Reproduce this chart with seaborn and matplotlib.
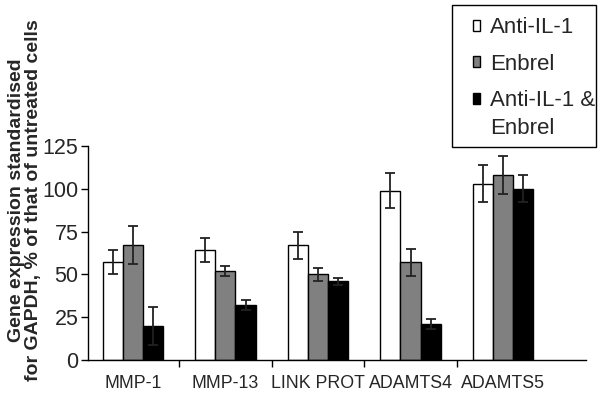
import matplotlib
matplotlib.use("Agg")
import matplotlib.pyplot as plt
import seaborn as sns
import pandas as pd
from matplotlib.ticker import FixedLocator
from matplotlib.patches import Rectangle
from matplotlib.legend_handler import HandlerPatch

genes = ["MMP-1", "MMP-13", "LINK PROT", "ADAMTS4", "ADAMTS5"]
treatments = ["Anti-IL-1", "Enbrel", "Anti-IL-1 &\nEnbrel"]
anti_il1 = [57, 64, 67, 99, 103]
anti_il1_err = [7, 7, 8, 10, 11]
enbrel = [67, 52, 50, 57, 108]
enbrel_err = [11, 3, 4, 8, 11]
combo = [20, 32, 46, 21, 100]
combo_err = [11, 3, 2, 3, 8]
yticks = [0, 25, 50, 75, 100, 125]

values = [anti_il1, enbrel, combo]
errors = [anti_il1_err, enbrel_err, combo_err]

rows = []
for t, vals in zip(treatments, values):
    for g, v in zip(genes, vals):
        rows.append({"gene": g, "treatment": t, "value": v})
df = pd.DataFrame(rows)

sns.set_style("ticks")
plt.rcParams["font.family"] = ["Liberation Sans", "DejaVu Sans"]

W, H = 600, 405
fig = plt.figure(figsize=(6.0, 4.05), dpi=100)
ax = fig.add_axes([88 / W, 1 - 360 / H, 498 / W, 214 / H])

sns.barplot(data=df, x="gene", y="value", hue="treatment", order=genes,
            hue_order=treatments, palette=["white", "#808080", "black"],
            edgecolor="black", linewidth=1.0, width=0.65, gap=0,
            errorbar=None, ax=ax, zorder=2)

for cont, errs in zip(ax.containers, errors):
    for bar, e in zip(cont, errs):
        cx = bar.get_x() + bar.get_width() / 2
        ax.errorbar(cx, bar.get_height(), yerr=e, fmt="none", ecolor="#222222",
                    elinewidth=1.3, capsize=3.5, capthick=1.3, zorder=3)


def top_line_patch(legend, orig_handle, xdescent, ydescent, width, height, fontsize):
    return Rectangle((-xdescent, -ydescent + 11.5), width, height)


handles, labels = ax.get_legend_handles_labels()
ax.get_legend().remove()
leg = fig.legend(handles, labels, loc="upper left",
                 bbox_to_anchor=(462 / W, 1 - 6 / H), borderaxespad=0,
                 frameon=False, fontsize=16, handlelength=0.3,
                 handleheight=0.4, handletextpad=0.45, labelspacing=0.7,
                 borderpad=0.5,
                 handler_map={handles[2]: HandlerPatch(patch_func=top_line_patch)})
for t in leg.get_texts():
    t.set_linespacing(1.4)
fig.patches.append(Rectangle((452 / W, 1 - 147 / H), 144 / W, 142 / H,
                             transform=fig.transFigure, fill=False,
                             edgecolor="black", linewidth=1.0))

ax.set_xlim(-0.486, 4.897)
ax.set_ylim(0, 125)
ax.set_yticks(yticks)
ax.set_yticklabels([str(v) for v in yticks], fontsize=15.5)
ax.set_xticks(range(len(genes)))
ax.set_xticklabels(genes, fontsize=12.8)
ax.tick_params(axis="x", which="major", length=0, pad=11)
ax.xaxis.set_minor_locator(FixedLocator([0.5, 1.5, 2.5, 3.5]))
ax.tick_params(axis="x", which="minor", length=5, width=1, color="black")
ax.tick_params(axis="y", length=5, width=1, color="black", pad=2)
ax.set_xlabel("")
ax.set_ylabel("Gene expression standardised\nfor GAPDH, % of that of untreated cells",
              fontsize=14, fontweight="bold", linespacing=1.0)
ax.yaxis.set_label_coords(-0.092, 0.745)
sns.despine(ax=ax)
for s in ["left", "bottom"]:
    ax.spines[s].set_color("black")
    ax.spines[s].set_linewidth(1.0)

fig.savefig("out.png", dpi=100)
